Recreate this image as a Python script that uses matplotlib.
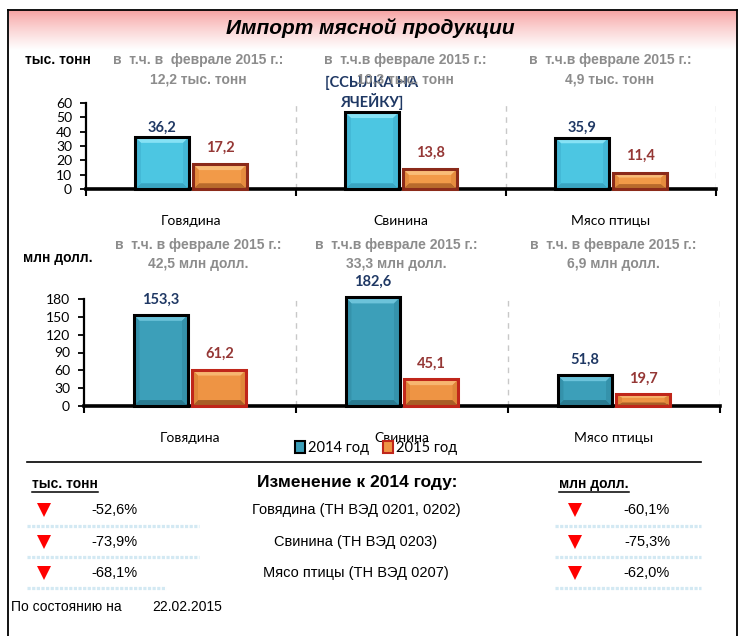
import matplotlib
matplotlib.use("Agg")
import matplotlib.pyplot as plt
import numpy as np
from matplotlib.patches import Rectangle, Patch
from matplotlib.lines import Line2D

plt.rcParams['font.family'] = ['Liberation Sans', 'DejaVu Sans']

categories = ["Говядина", "Свинина", "Мясо птицы"]
tonn_2014 = [36.2, 53.5, 35.9]
tonn_2015 = [17.2, 13.8, 11.4]
usd_2014 = [153.3, 182.6, 51.8]
usd_2015 = [61.2, 45.1, 19.7]
tonn_2014_labels = ["36,2", "[ССЫЛКА НА\nЯЧЕЙКУ]", "35,9"]

feb_tonn_heads = ["в  т.ч. в  феврале 2015 г.:", "в  т.ч.в феврале 2015 г.:", "в  т.ч.в феврале 2015 г.:"]
feb_tonn = [12.2, 10.3, 4.9]
feb_usd_heads = ["в  т.ч. в феврале 2015 г.:", "в  т.ч.в феврале 2015 г.:", "в  т.ч. в феврале 2015 г.:"]
feb_usd = [42.5, 33.3, 6.9]

row_names = ["Говядина (ТН ВЭД 0201, 0202)", "Свинина (ТН ВЭД 0203)", "Мясо птицы (ТН ВЭД 0207)"]
change_tonn = [-52.6, -73.9, -68.1]
change_usd = [-60.1, -75.3, -62.0]
date_str = "22.02.2015"

W, H = 742, 636


def fx(px):
    return px / W


def fy(py):
    return 1 - py / H


def ru(v):
    return f"{v:.1f}".replace(".", ",")


def bevel_bar(ax, xc, h, w, base, light, dark, side, edge, bx, by, lw):
    x0, x1 = xc - w / 2, xc + w / 2
    b = min(by, h * 0.3)
    ax.add_patch(Rectangle((x0, 0), w, h, facecolor=base, edgecolor='none', zorder=2, clip_on=False))
    polys = [([x0, x1, x1 - bx, x0 + bx], [h, h, h - b, h - b], light),
             ([x0, x1, x1 - bx, x0 + bx], [0, 0, b, b], dark),
             ([x0, x0 + bx, x0 + bx, x0], [0, b, h - b, h], side),
             ([x1, x1 - bx, x1 - bx, x1], [0, b, h - b, h], side)]
    for px, py, c in polys:
        for p in ax.fill(px, py, color=c, lw=0, zorder=3):
            p.set_clip_on(False)
    ax.add_patch(Rectangle((x0, 0), w, h, facecolor='none', edgecolor=edge, lw=lw, zorder=4,
                           clip_on=False))


fig = plt.figure(figsize=(W / 100, H / 100), dpi=100)

# frame
for xs, ys in [([8, 8], [10, 640]), ([8, 737], [10, 10]), ([737, 737], [10, 640])]:
    fig.add_artist(Line2D([fx(v) for v in xs], [fy(v) for v in ys], color='black', lw=1.3))

# title band
band = fig.add_axes([fx(9), fy(50), fx(727), 40 / H])
grad = np.linspace(0, 1, 100).reshape(-1, 1)
top_c = np.array([0.965, 0.62, 0.62])
cols = top_c + (1 - top_c) * grad[..., None] ** 0.8
band.imshow(cols, aspect='auto', extent=[0, 1, 0, 1])
band.axis('off')
fig.text(fx(370), fy(28), "Импорт мясной продукции", fontsize=15, fontweight='bold',
         fontstyle='italic', ha='center', va='center')

x = np.arange(len(categories))
bw = 0.257
off = 0.138
lab_font = ['Lato', 'DejaVu Sans']


def setup_axes(ax, ymax, step):
    ax.set_xlim(-0.5, 2.5)
    ax.set_ylim(0, ymax)
    ax.set_yticks(np.arange(0, ymax + 1, step))
    ax.tick_params(axis='y', length=4, width=1.3, pad=6, labelsize=10)
    for lab in ax.get_yticklabels():
        lab.set_family(lab_font)
    ax.set_xticks([-0.5, 0.5, 1.5, 2.5])
    ax.set_xticklabels([])
    ax.tick_params(axis='x', which='major', length=5, width=1.5)
    ax.set_xticks(x, minor=True)
    ax.set_xticklabels(categories, minor=True, fontsize=10, family=lab_font)
    ax.tick_params(axis='x', which='minor', length=0, pad=19)
    ax.spines['top'].set_visible(False)
    ax.spines['right'].set_visible(False)
    ax.spines['left'].set_linewidth(1.6)
    ax.spines['bottom'].set_linewidth(2.6)
    ax.patch.set_alpha(0)
    for s in [0.5, 1.5, 2.5]:
        ax.axvline(s, color='#c8c8c8', lw=1, ls=(0, (4, 4)), zorder=1)


# top chart (thousand tonnes)
ax1 = fig.add_axes([fx(86), fy(189), fx(716 - 86), (189 - 103) / H])
setup_axes(ax1, 60, 10)
for i in range(len(categories)):
    bevel_bar(ax1, x[i] - off, tonn_2014[i], bw, '#4cc6e2', '#86e2f5', '#3aa5c2', '#44b8d6',
              'black', 0.028, 4.0, 2.2)
    bevel_bar(ax1, x[i] + off, tonn_2015[i], bw, '#f29a48', '#f9bd78', '#b86a2c', '#e58c3e',
              '#8b2a1a', 0.028, 4.0, 2.2)
    ax1.annotate(tonn_2014_labels[i], (x[i] - off, tonn_2014[i]), xytext=(0, 2),
                 textcoords='offset points', ha='center', va='bottom', fontsize=10.5,
                 fontweight='bold', color='#1f3864', family=lab_font, linespacing=1.2,
                 annotation_clip=False)
    ax1.annotate(ru(tonn_2015[i]), (x[i] + off, tonn_2015[i]), xytext=(0, 7),
                 textcoords='offset points', ha='center', va='bottom', fontsize=10.5,
                 fontweight='bold', color='#953735', family=lab_font, annotation_clip=False)

# bottom chart (million dollars)
ax2 = fig.add_axes([fx(84), fy(406), fx(720 - 84), (406 - 299) / H])
setup_axes(ax2, 180, 30)
for i in range(len(categories)):
    bevel_bar(ax2, x[i] - off, usd_2014[i], bw, '#3c9fb9', '#6cc3da', '#2a7a90', '#3592ab',
              'black', 0.028, 10.0, 2.2)
    bevel_bar(ax2, x[i] + off, usd_2015[i], bw, '#ee9444', '#f7b670', '#a95e26', '#e0873a',
              '#c0261a', 0.028, 10.0, 2.2)
    ax2.annotate(ru(usd_2014[i]), (x[i] - off, usd_2014[i]), xytext=(0, 6),
                 textcoords='offset points', ha='center', va='bottom', fontsize=10.5,
                 fontweight='bold', color='#1f3864', family=lab_font, annotation_clip=False)
    ax2.annotate(ru(usd_2015[i]), (x[i] + off, usd_2015[i]), xytext=(0, 6),
                 textcoords='offset points', ha='center', va='bottom', fontsize=10.5,
                 fontweight='bold', color='#953735', family=lab_font, annotation_clip=False)

# unit captions and February notes
fig.text(fx(25), fy(60), "тыс. тонн", fontsize=10, fontweight='bold', va='center')
fig.text(fx(23), fy(258), "млн долл.", fontsize=10, fontweight='bold', va='center')
top_cx = [198, 405, 610]
bot_cx = [198, 396, 613]
gray = '#8c8c8c'
for i in range(3):
    fig.text(fx(top_cx[i]), fy(60), feb_tonn_heads[i], fontsize=10, fontweight='bold',
             color=gray, ha='center', va='center')
    fig.text(fx(top_cx[i]), fy(79), ru(feb_tonn[i]) + " тыс. тонн", fontsize=10,
             fontweight='bold', color=gray, ha='center', va='center')
    fig.text(fx(bot_cx[i]), fy(245), feb_usd_heads[i], fontsize=10, fontweight='bold',
             color=gray, ha='center', va='center')
    fig.text(fx(bot_cx[i]), fy(264), ru(feb_usd[i]) + " млн долл.", fontsize=10,
             fontweight='bold', color=gray, ha='center', va='center')

# legend
handles = [Patch(facecolor='#3c9fb9', edgecolor='black', lw=1.5),
           Patch(facecolor='#ee9444', edgecolor='#c0261a', lw=1.5)]
fig.legend(handles, ["2014 год", "2015 год"], loc='center', bbox_to_anchor=(fx(376), fy(448)),
           ncol=2, frameon=False, handlelength=0.7, handleheight=0.8, handletextpad=0.15,
           columnspacing=1.0, prop={'family': lab_font, 'size': 10.5}, borderpad=0)

# change table
fig.add_artist(Line2D([fx(27), fx(701)], [fy(462), fy(462)], color='black', lw=1.2))
fig.text(fx(357), fy(483), "Изменение к 2014 году:", fontsize=12.5, fontweight='bold',
         ha='center', va='center')
t_left = fig.text(fx(32), fy(484), "тыс. тонн", fontsize=10, fontweight='bold', va='center')
t_right = fig.text(fx(559), fy(484), "млн долл.", fontsize=10, fontweight='bold', va='center')

row_y = [510, 542, 573]
dot_y = [526, 557, 588]
left_end = [199, 199, 166]
for i in range(len(row_names)):
    fig.add_artist(Line2D([fx(44)], [fy(row_y[i])], marker='v', markersize=10.5, color='#ff0000',
                          markeredgewidth=0))
    fig.add_artist(Line2D([fx(575)], [fy(row_y[i])], marker='v', markersize=10.5, color='#ff0000',
                          markeredgewidth=0))
    fig.text(fx(114), fy(row_y[i]), ru(change_tonn[i]) + "%", fontsize=10.5, ha='center', va='center')
    fig.text(fx(647), fy(row_y[i]), ru(change_usd[i]) + "%", fontsize=10.5, ha='center', va='center')
    fig.text(fx(356), fy(row_y[i]), row_names[i], fontsize=10.5, ha='center', va='center')
    fig.add_artist(Line2D([fx(27), fx(left_end[i])], [fy(dot_y[i]), fy(dot_y[i])], color='#d3e9f3',
                          lw=2.3, ls=(0, (1.0, 0.45))))
    fig.add_artist(Line2D([fx(555), fx(701)], [fy(dot_y[i]), fy(dot_y[i])], color='#d3e9f3',
                          lw=2.3, ls=(0, (1.0, 0.45))))

fig.text(fx(11), fy(607), "По состоянию на", fontsize=10, va='center')
fig.text(fx(152), fy(607), date_str, fontsize=10, va='center')

# underline the unit captions
fig.canvas.draw()
r = fig.canvas.get_renderer()
for t in [t_left, t_right]:
    bb = t.get_window_extent(renderer=r)
    yl = (bb.y0 - 1) / H
    fig.add_artist(Line2D([bb.x0 / W, bb.x1 / W], [yl, yl], color='black', lw=1.1))

fig.savefig("out.png", dpi=100)
